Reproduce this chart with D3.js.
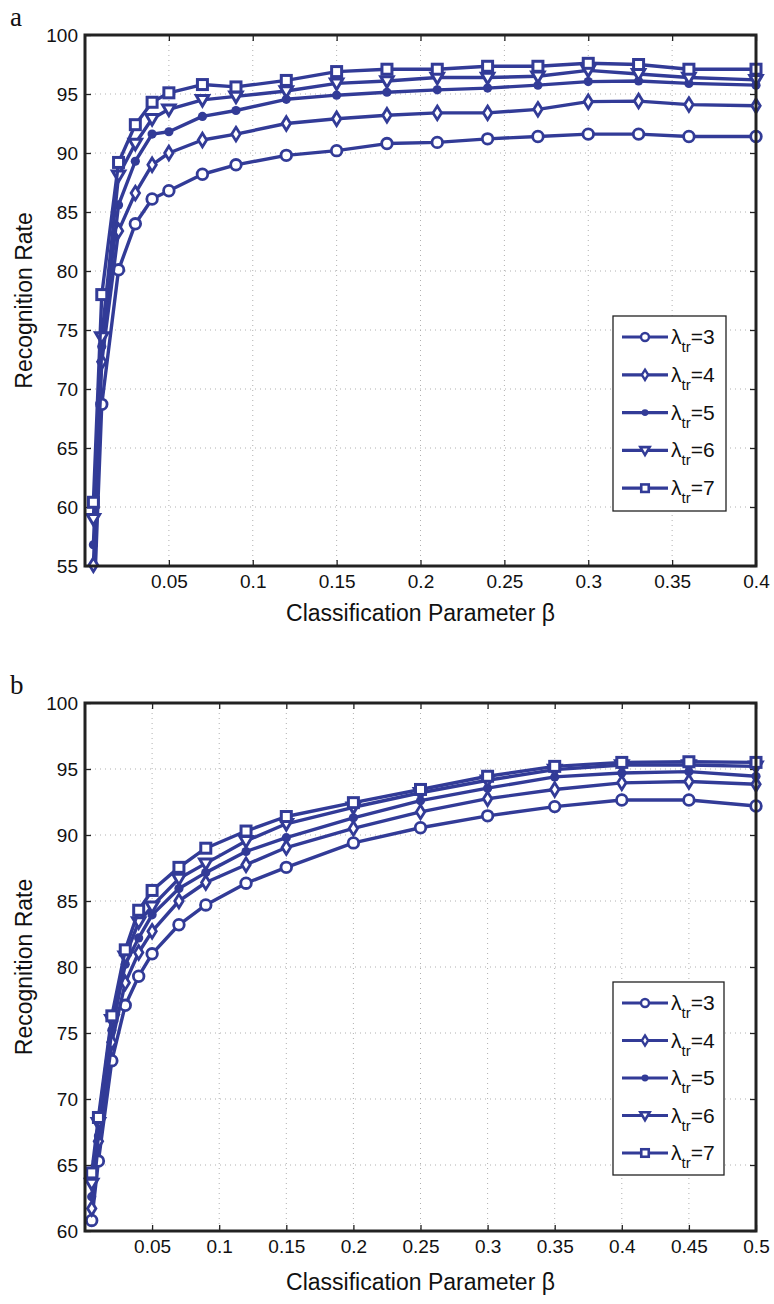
<!DOCTYPE html>
<html>
<head>
<meta charset="utf-8">
<script src="https://cdn.jsdelivr.net/npm/d3@7"></script>
<style>
  body { margin: 0; background: #fff; }
  svg { display: block; }
  text { font-family: "Liberation Sans", Arial, sans-serif; fill: #111; }
</style>
</head>
<body>
<div id="chart"></div>
<script>
// series labels
const lambdas = [3, 4, 5, 6, 7];

// panel a
const betaA = [0.005, 0.01, 0.02, 0.03, 0.04, 0.05, 0.07, 0.09, 0.12, 0.15, 0.18, 0.21, 0.24, 0.27, 0.30, 0.33, 0.36, 0.40];
const rateA3 = [50.5, 68.7, 80.1, 84.0, 86.1, 86.8, 88.2, 89.0, 89.8, 90.2, 90.8, 90.9, 91.2, 91.4, 91.6, 91.6, 91.4, 91.4];
const rateA4 = [55.1, 72.3, 83.4, 86.6, 89.0, 90.0, 91.1, 91.6, 92.5, 92.9, 93.2, 93.4, 93.4, 93.7, 94.35, 94.4, 94.1, 94.0];
const rateA5 = [56.8, 73.6, 85.6, 89.3, 91.6, 91.8, 93.1, 93.6, 94.55, 94.9, 95.15, 95.35, 95.5, 95.75, 96.05, 96.1, 95.9, 95.75];
const rateA6 = [59.0, 74.4, 88.1, 90.8, 92.9, 93.7, 94.5, 94.8, 95.25, 95.9, 96.1, 96.4, 96.4, 96.5, 97.0, 96.7, 96.4, 96.2];
const rateA7 = [60.4, 78.0, 89.2, 92.4, 94.3, 95.1, 95.8, 95.6, 96.15, 96.9, 97.1, 97.1, 97.35, 97.35, 97.6, 97.5, 97.1, 97.1];
const xTicksA = [0.05, 0.1, 0.15, 0.2, 0.25, 0.3, 0.35, 0.4];
const yTicksA = [55, 60, 65, 70, 75, 80, 85, 90, 95, 100];

// panel b
const betaB = [0.005, 0.01, 0.02, 0.03, 0.04, 0.05, 0.07, 0.09, 0.12, 0.15, 0.2, 0.25, 0.3, 0.35, 0.4, 0.45, 0.5];
const rateB3 = [60.8, 65.3, 72.9, 77.1, 79.3, 81.0, 83.2, 84.7, 86.35, 87.55, 89.4, 90.55, 91.45, 92.15, 92.65, 92.65, 92.2];
const rateB4 = [61.7, 66.8, 74.3, 78.8, 81.1, 82.7, 85.0, 86.4, 87.75, 89.05, 90.5, 91.75, 92.75, 93.45, 93.95, 94.05, 93.85];
const rateB5 = [62.6, 67.2, 75.2, 80.2, 82.2, 83.95, 85.95, 87.15, 88.75, 89.8, 91.3, 92.6, 93.55, 94.4, 94.7, 94.8, 94.45];
const rateB6 = [63.6, 68.2, 76.0, 80.8, 83.4, 84.6, 86.7, 87.85, 89.55, 90.85, 92.1, 93.2, 94.15, 94.95, 95.3, 95.3, 95.2];
const rateB7 = [64.4, 68.6, 76.3, 81.3, 84.3, 85.8, 87.55, 89.0, 90.3, 91.4, 92.45, 93.45, 94.45, 95.2, 95.5, 95.55, 95.5];
const xTicksB = [0.05, 0.1, 0.15, 0.2, 0.25, 0.3, 0.35, 0.4, 0.45, 0.5];
const yTicksB = [60, 65, 70, 75, 80, 85, 90, 95, 100];

const W = 774, H = 1304;
const blue = "#323b97";
const markerKinds = ["circle", "diamond", "dot", "triangle", "square"];

const svg = d3.select("#chart").append("svg")
  .attr("width", W)
  .attr("height", H);

// draw one marker at 0,0 inside g
function drawMarker(g, kind, s) {
  s = s || 1;
  const sw = 2.8 * Math.min(1, s + 0.1);
  if (kind === "circle") {
    g.append("circle").attr("r", 5.3 * s).attr("fill", "#fff").attr("stroke", blue).attr("stroke-width", sw);
  } else if (kind === "diamond") {
    const r = 6.8 * s;
    g.append("path").attr("d", `M0,${-r}L${r * 0.62},0L0,${r}L${-r * 0.62},0Z`)
      .attr("fill", "#fff").attr("stroke", blue).attr("stroke-width", sw);
  } else if (kind === "dot") {
    g.append("circle").attr("r", 4.6 * s).attr("fill", blue);
  } else if (kind === "triangle") {
    const r = 6.2 * s;
    g.append("path").attr("d", `M${-r},${-r * 0.7}L${r},${-r * 0.7}L0,${r}Z`)
      .attr("fill", "#fff").attr("stroke", blue).attr("stroke-width", sw + 0.2);
  } else {
    const r = 5 * s;
    g.append("rect").attr("x", -r).attr("y", -r).attr("width", 2 * r).attr("height", 2 * r)
      .attr("fill", "#fff").attr("stroke", blue).attr("stroke-width", sw + 0.2);
  }
}

function drawPanel(p) {
  const x = d3.scaleLinear().domain(p.xDomain).range([p.left, p.right]);
  const y = d3.scaleLinear().domain(p.yDomain).range([p.bottom, p.top]);
  const g = svg.append("g");

  // grid
  g.append("g").selectAll("line").data(p.xTicks).join("line")
    .attr("x1", d => x(d)).attr("x2", d => x(d))
    .attr("y1", p.top).attr("y2", p.bottom)
    .attr("stroke", "#b0b0b0").attr("stroke-width", 1).attr("stroke-dasharray", "1,4");
  g.append("g").selectAll("line").data(p.yTicks).join("line")
    .attr("x1", p.left).attr("x2", p.right)
    .attr("y1", d => y(d)).attr("y2", d => y(d))
    .attr("stroke", "#b0b0b0").attr("stroke-width", 1).attr("stroke-dasharray", "1,4");

  // axes (inward ticks)
  const xAxis = d3.axisBottom(x).tickValues(p.xTicks).tickFormat(d => String(d))
    .tickSizeInner(-6).tickSizeOuter(0).tickPadding(9);
  const yAxis = d3.axisLeft(y).tickValues(p.yTicks).tickFormat(d => String(d))
    .tickSizeInner(-6).tickSizeOuter(0).tickPadding(7);
  const gx = g.append("g").attr("transform", `translate(0,${p.bottom})`).call(xAxis);
  const gy = g.append("g").attr("transform", `translate(${p.left},0)`).call(yAxis);
  const gx2 = g.append("g").attr("transform", `translate(0,${p.top})`)
    .call(d3.axisTop(x).tickValues(p.xTicks).tickFormat("").tickSizeInner(-6).tickSizeOuter(0));
  const gy2 = g.append("g").attr("transform", `translate(${p.right},0)`)
    .call(d3.axisRight(y).tickValues(p.yTicks).tickFormat("").tickSizeInner(-6).tickSizeOuter(0));
  [gx, gy, gx2, gy2].forEach(a => {
    a.select(".domain").remove();
    a.selectAll(".tick line").attr("stroke", "#222").attr("stroke-width", 1.3);
    a.selectAll("text").attr("font-size", 19).attr("fill", "#111")
      .style("font-family", "'Liberation Sans', Arial, sans-serif");
  });

  // clip for lines
  const clipId = "clip-" + p.name;
  svg.append("clipPath").attr("id", clipId).append("rect")
    .attr("x", p.left).attr("y", p.top)
    .attr("width", p.right - p.left).attr("height", p.bottom - p.top);

  const line = d3.line().x(d => x(d[0])).y(d => y(d[1]));

  p.series.forEach((vals, i) => {
    const pts = p.beta.map((b, j) => [b, vals[j]]);
    g.append("path").datum(pts)
      .attr("d", line)
      .attr("fill", "none").attr("stroke", blue).attr("stroke-width", 3.4)
      .attr("stroke-linejoin", "round")
      .attr("clip-path", `url(#${clipId})`);
    const inside = pts.filter(d => d[1] >= p.yDomain[0] && d[1] <= p.yDomain[1]);
    g.append("g").selectAll("g").data(inside).join("g")
      .attr("transform", d => `translate(${x(d[0])},${y(d[1])})`)
      .each(function() { drawMarker(d3.select(this), markerKinds[i]); });
  });

  // frame
  g.append("rect")
    .attr("x", p.left).attr("y", p.top)
    .attr("width", p.right - p.left).attr("height", p.bottom - p.top)
    .attr("fill", "none").attr("stroke", "#222").attr("stroke-width", 3);

  // axis titles
  g.append("text")
    .attr("transform", `translate(${p.yLabelX},${(p.top + p.bottom) / 2}) rotate(-90)`)
    .attr("text-anchor", "middle").attr("font-size", 23)
    .text("Recognition Rate");
  g.append("text")
    .attr("x", (p.left + p.right) / 2).attr("y", p.xLabelY)
    .attr("text-anchor", "middle").attr("font-size", 23)
    .text("Classification Parameter β");

  // panel letter
  g.append("text")
    .attr("x", 10).attr("y", p.top - 9)
    .attr("font-size", 27)
    .style("font-family", "'Liberation Serif', 'Times New Roman', serif")
    .text(p.name);

  // legend
  const lg = g.append("g");
  lg.append("rect")
    .attr("x", p.legend.x).attr("y", p.legend.y)
    .attr("width", p.legend.w).attr("height", p.legend.h)
    .attr("fill", "#fff").attr("stroke", "#222").attr("stroke-width", 1.3);
  lambdas.forEach((lam, i) => {
    const ey = p.legend.y + 21 + i * p.legend.step;
    const row = lg.append("g").attr("transform", `translate(${p.legend.x},${ey})`);
    row.append("line").attr("x1", 9).attr("x2", 55).attr("y1", 0).attr("y2", 0)
      .attr("stroke", blue).attr("stroke-width", 3.2);
    drawMarker(row.append("g").attr("transform", "translate(32,0)"), markerKinds[i], 0.75);
    const t = row.append("text").attr("x", 58).attr("y", 7).attr("font-size", 21);
    t.append("tspan").text("λ");
    t.append("tspan").attr("font-size", 15).attr("dy", 8).text("tr");
    t.append("tspan").attr("dy", -8).text("=" + lam);
  });
}

drawPanel({
  name: "a",
  left: 85, right: 756, top: 35, bottom: 566,
  xDomain: [0, 0.4], yDomain: [55, 100],
  xTicks: xTicksA, yTicks: yTicksA,
  beta: betaA,
  series: [rateA3, rateA4, rateA5, rateA6, rateA7],
  yLabelX: 32, xLabelY: 621,
  legend: { x: 613, y: 316, w: 113, h: 195, step: 37.8 }
});

drawPanel({
  name: "b",
  left: 85, right: 756, top: 703, bottom: 1231,
  xDomain: [0, 0.5], yDomain: [60, 100],
  xTicks: xTicksB, yTicks: yTicksB,
  beta: betaB,
  series: [rateB3, rateB4, rateB5, rateB6, rateB7],
  yLabelX: 32, xLabelY: 1290,
  legend: { x: 613, y: 982, w: 111, h: 193, step: 37.5 }
});
</script>
</body>
</html>
